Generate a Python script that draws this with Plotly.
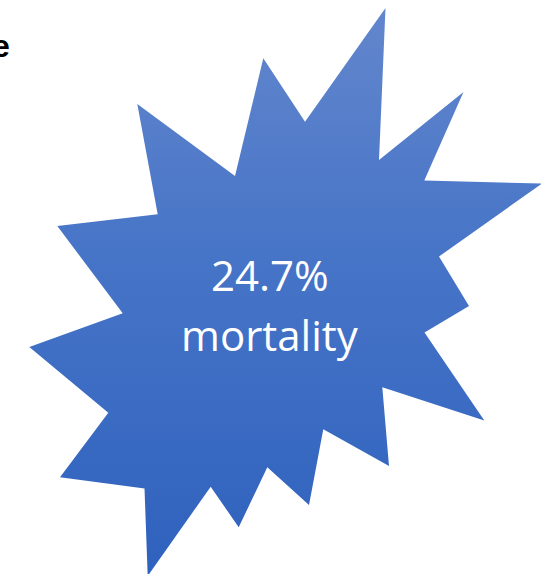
import plotly.graph_objects as go

# Starburst outline, clockwise from the top spike (page pixel space, y grows downward)
star_x = [385.5, 379.0, 463.5, 424.3, 542.0, 439.0, 469.0, 424.5, 484.3, 382.3,
          389.0, 323.3, 309.0, 267.3, 238.7, 210.7, 147.7, 144.5, 60.0, 108.3,
          29.3, 122.7, 57.3, 157.7, 137.3, 235.0, 263.3, 305.0]
star_y = [8.0, 160.0, 92.0, 180.5, 183.5, 256.5, 306.0, 332.5, 420.5, 387.3,
          466.0, 429.3, 505.0, 467.3, 527.3, 486.7, 576.0, 488.5, 477.3, 412.7,
          347.0, 313.3, 226.0, 214.3, 104.0, 176.0, 58.3, 121.7]

headline_value = "24.7%"
headline_label = "mortality"
title_tail = "e"

W, H = 541, 574

fig = go.Figure()

fig.add_trace(go.Scatter(
    x=star_x + star_x[:1],
    y=star_y + star_y[:1],
    mode="lines",
    fill="toself",
    line=dict(width=0, color="rgba(0,0,0,0)"),
    fillcolor="#4472C4",
    fillgradient=dict(
        type="vertical",
        start=0,
        stop=H,
        colorscale=[[0.0, "#6487CD"], [0.45, "#4674C7"], [1.0, "#2F62BE"]],
    ),
    hoverinfo="skip",
    showlegend=False,
))

# Two text lines placed separately for the wider line gap
label_font = dict(family="Open Sans", size=42, color="white")
fig.add_annotation(
    x=270, y=274, xref="x", yref="y", text=headline_value,
    showarrow=False, font=label_font, yanchor="middle",
)
fig.add_annotation(
    x=270, y=334, xref="x", yref="y", text=headline_label,
    showarrow=False, font=label_font, yanchor="middle",
)

fig.add_annotation(
    x=12, y=46, xref="x", yref="y",
    text=f"<b>{title_tail}</b>",
    showarrow=False,
    xanchor="right",
    font=dict(family="Liberation Sans", size=32, color="black"),
)

fig.update_xaxes(range=[0, W], visible=False, fixedrange=True)
fig.update_yaxes(range=[H, 0], visible=False, fixedrange=True)
fig.update_layout(
    width=W, height=H,
    margin=dict(l=0, r=0, t=0, b=0),
    paper_bgcolor="white",
    plot_bgcolor="white",
)

fig.write_html("out.html", config={"displayModeBar": False})
